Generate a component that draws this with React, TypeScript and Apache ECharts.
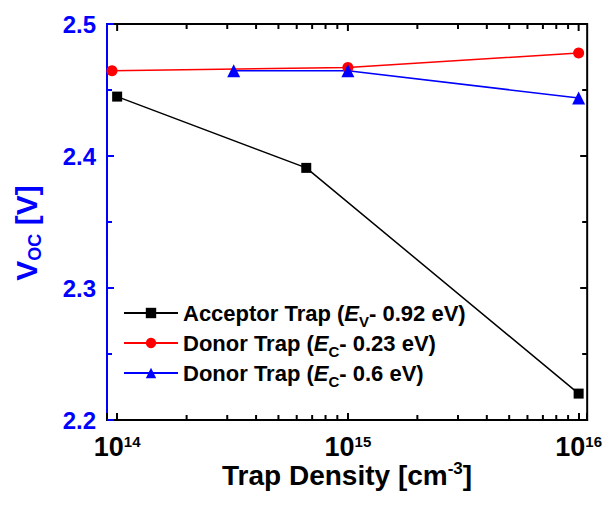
import React, { useEffect, useRef } from 'react';
import * as echarts from 'echarts';

const FONT = '"Liberation Sans", Arial, Helvetica, sans-serif';
const BLUE = '#0000ff';
const RED = '#ff0000';
const BLACK = '#000000';

const seriesNames = [
  'Acceptor Trap (EV- 0.92 eV)',
  'Donor Trap (EC- 0.23 eV)',
  'Donor Trap (EC- 0.6 eV)',
];
const legendLabels = [
  '{t|Acceptor Trap (}{e|E}{s|V}{t|- 0.92 eV)}',
  '{t|Donor Trap (}{e|E}{s|C}{t|- 0.23 eV)}',
  '{t|Donor Trap (}{e|E}{s|C}{t|- 0.6 eV)}',
];

// Trap density [cm^-3] and Voc [V]
const acceptorDensity = [1e14, 6.6e14, 1e16];
const acceptorVoc = [2.445, 2.391, 2.22];
const donor023Density = [9.5e13, 1e15, 1e16];
const donor023Voc = [2.4646, 2.467, 2.478];
const donor06Density = [3.2e14, 1e15, 1e16];
const donor06Voc = [2.4645, 2.4645, 2.444];

// axes and tick marks
const xMinExp = 13.956;
const xMaxExp = 16.037;
const yMin = 2.2;
const yMax = 2.5;
const yInterval = 0.1;
const xMajorTicks = [1e14, 1e15, 1e16];
const xMinorTicks = [2e14, 3e14, 4e14, 5e14, 6e14, 7e14, 8e14, 9e14, 2e15, 3e15, 4e15, 5e15, 6e15, 7e15, 8e15, 9e15];
const yMajorTicks = [2.2, 2.3, 2.4, 2.5];
const yMinorTicks = [2.25, 2.35, 2.45];

const pair = (xs: number[], ys: number[]) => xs.map((x, i) => [x, ys[i]]);

export default function App() {
  const ref = useRef<HTMLDivElement>(null);
  useEffect(() => {
    if (!ref.current) return;
    const chart = echarts.init(ref.current, undefined, { renderer: 'svg' });
    const boldText = (size: number, extra: any = {}) => ({
      fontSize: size,
      fontWeight: 'bold',
      fontFamily: FONT,
      color: BLACK,
      ...extra,
    });
    const xMin = Math.pow(10, xMinExp);
    const xMax = Math.pow(10, xMaxExp);
    const xLabelFmt = (v: number) => {
      const e = Math.log10(v);
      if (Math.abs(e - Math.round(e)) > 0.01) return '';
      return '{b|10}{p|' + Math.round(e) + '}';
    };
    // tick data: [x, y, kind]
    const tickData = [
      ...xMinorTicks.map((v) => [v, yMin, 0]),
      ...xMajorTicks.map((v) => [v, yMin, 1]),
      ...yMajorTicks.map((v) => [xMin, v, 2]),
      ...yMinorTicks.map((v) => [xMin, v, 3]),
    ];
    chart.setOption({
      animation: false,
      grid: { left: 107, right: 12, top: 24, bottom: 86, show: true, borderColor: BLACK, borderWidth: 2, backgroundColor: 'transparent' },
      legend: {
        data: seriesNames,
        orient: 'vertical',
        left: 123,
        top: 302,
        padding: 0,
        itemGap: 3,
        itemWidth: 54,
        itemHeight: 13,
        selectedMode: false,
        formatter: (name: string) => legendLabels[seriesNames.indexOf(name)],
        textStyle: {
          rich: {
            t: boldText(22, { lineHeight: 32 }),
            e: boldText(22, { lineHeight: 32, fontStyle: 'italic' }),
            s: boldText(15, { lineHeight: 14, verticalAlign: 'bottom' }),
          },
        },
      },
      xAxis: {
        type: 'log',
        min: xMin,
        max: xMax,
        axisLine: { show: true, lineStyle: { color: BLACK, width: 2 } },
        axisTick: { show: true, inside: true, length: 7, lineStyle: { color: BLACK, width: 2 } },
        axisLabel: {
          interval: 0,
          margin: 14,
          formatter: xLabelFmt,
          rich: {
            b: boldText(27, { lineHeight: 26 }),
            p: boldText(15, { lineHeight: 8, verticalAlign: 'top' }),
          },
        },
        splitLine: { show: false },
        name: '{t|Trap Density [cm}{p|-3}{t|]}',
        nameLocation: 'middle',
        nameGap: 40,
        nameMoveOverlap: false,
        nameTextStyle: {
          rich: {
            t: boldText(28, { lineHeight: 30 }),
            p: boldText(17, { lineHeight: 8, verticalAlign: 'top' }),
          },
        },
      },
      yAxis: {
        type: 'value',
        min: yMin,
        max: yMax,
        interval: yInterval,
        axisLine: { show: true, lineStyle: { color: BLUE, width: 2 } },
        axisTick: { show: true, inside: true, length: 7, lineStyle: { color: BLUE, width: 2 } },
        minorTick: { show: true, splitNumber: 2, length: 4.5, lineStyle: { color: BLUE, width: 2 } },
        axisLabel: {
          color: BLUE,
          fontSize: 24,
          fontWeight: 'bold',
          fontFamily: FONT,
          margin: 11,
          formatter: (v: number) => v.toFixed(1),
        },
        splitLine: { show: false },
      },
      graphic: [
        {
          type: 'text',
          x: 26,
          y: 233,
          rotation: Math.PI / 2,
          silent: true,
          style: {
            text: '{v|V}{s|OC}{v| [V]}',
            align: 'center',
            verticalAlign: 'middle',
            fill: BLUE,
            rich: {
              v: { fontSize: 30, fontWeight: 'bold', fontFamily: FONT, lineHeight: 36, fill: BLUE },
              s: { fontSize: 18, fontWeight: 'bold', fontFamily: FONT, lineHeight: 21, verticalAlign: 'bottom', fill: BLUE },
            },
          },
        },
      ],
      series: [
        {
          type: 'custom',
          clip: false,
          silent: true,
          z: 10,
          data: tickData,
          renderItem: (params: any, api: any) => {
            const kind = api.value(2);
            const p = api.coord([api.value(0), api.value(1)]);
            const cs = params.coordSys;
            const top = cs.y;
            const bottom = cs.y + cs.height;
            const right = cs.x + cs.width;
            const left = cs.x;
            const st = { fill: kind >= 2 ? BLACK : BLACK };
            if (kind === 0) {
              return {
                type: 'group',
                children: [
                  { type: 'rect', shape: { x: p[0] - 1, y: bottom - 5, width: 2, height: 5 }, style: st },
                  { type: 'rect', shape: { x: p[0] - 1, y: top, width: 2, height: 5 }, style: st },
                ],
              };
            }
            if (kind === 1) {
              return { type: 'rect', shape: { x: p[0] - 1, y: top, width: 2, height: 7 }, style: st };
            }
            if (kind === 2) {
              return {
                type: 'group',
                children: [
                  { type: 'rect', shape: { x: right - 7, y: p[1] - 1, width: 7, height: 2 }, style: st },
                  { type: 'rect', shape: { x: left, y: p[1] - 1, width: 7, height: 2 }, style: { fill: BLUE } },
                ],
              };
            }
            return {
              type: 'group',
              children: [
                { type: 'rect', shape: { x: right - 5, y: p[1] - 1, width: 5, height: 2 }, style: st },
                { type: 'rect', shape: { x: left, y: p[1] - 1, width: 5, height: 2 }, style: { fill: BLUE } },
              ],
            };
          },
        },
        {
          name: seriesNames[0],
          type: 'line',
          data: pair(acceptorDensity, acceptorVoc),
          symbol: 'rect',
          symbolSize: 10,
          itemStyle: { color: BLACK },
          lineStyle: { color: BLACK, width: 1.5 },
        },
        {
          name: seriesNames[1],
          type: 'line',
          data: pair(donor023Density, donor023Voc),
          symbol: 'circle',
          symbolSize: 11,
          itemStyle: { color: RED },
          lineStyle: { color: RED, width: 1.5 },
        },
        {
          name: seriesNames[2],
          type: 'line',
          data: pair(donor06Density, donor06Voc),
          symbol: 'triangle',
          symbolSize: 13,
          itemStyle: { color: BLUE },
          lineStyle: { color: BLUE, width: 1.5 },
        },
      ],
    });
    return () => chart.dispose();
  }, []);
  return <div ref={ref} style={{ position: 'absolute', left: 0, top: 0, width: 605, height: 506 }} />;
}
